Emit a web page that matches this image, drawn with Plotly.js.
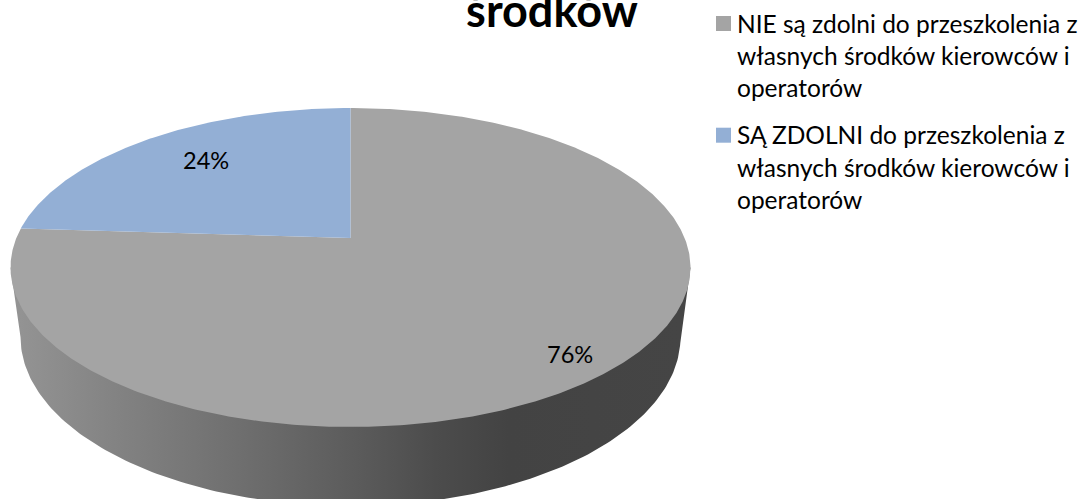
<!DOCTYPE html>
<html><head><meta charset="utf-8">
<script src="https://cdn.plot.ly/plotly-3.0.1.min.js"></script>
<style>html,body{margin:0;padding:0;background:#fff;overflow:hidden}#chart{width:1080px;height:499px}</style>
</head><body><div id="chart"></div>
<script>
// Data
const categories = ['NIE są zdolni do przeszkolenia z własnych środków kierowców i operatorów',
                    'SĄ ZDOLNI do przeszkolenia z własnych środków kierowców i operatorów'];
const shares = [76, 24];
const sliceColors = ['#a4a4a4', '#93afd5'];
const legendLines = [
  ['NIE są zdolni do przeszkolenia z', 'własnych środków kierowców i', 'operatorów'],
  ['SĄ ZDOLNI do przeszkolenia z', 'własnych środków kierowców i', 'operatorów']
];
const titleText = 'środków';

// Layout of the tilted disc (pixels of the 1080x499 canvas)
const W = 1080, H = 499;
const cx = 350.5, cy = 267.5, rx = 340, ry = 159.5;   // top face ellipse
const apexShift = 0.185;                              // perspective shift of the pie centre
const botCy = 337, botRx = 330, botRy = 169;          // bottom rim ellipse
const ux = p => (p - cx) / rx, uy = p => (cy - p) / ry;

function project(theta) {  // angle clockwise from 12 o'clock -> axis coordinates
  const X = Math.sin(theta), Y = Math.cos(theta), a = apexShift, d = 1 + a * Y;
  return [X * Math.sqrt(1 - a * a) / d, (Y + a) / d];
}
const traces = [];

// Side wall
const wx = [], wy = [];
for (let d = 90; d <= 270; d += 1) {
  const t = d * Math.PI / 180;
  wx.push(ux(cx + botRx * Math.sin(t))); wy.push(uy(botCy - botRy * Math.cos(t)));
}
wx.push(ux(cx - rx), ux(cx + rx)); wy.push(0, 0);
wx.unshift(ux(cx + rx)); wy.unshift(0);
const wallStops = [[0, '#939393'], [0.16, '#818181'], [0.33, '#6f6f6f'], [0.52, '#5a5a5a'],
                   [0.63, '#4c4c4c'], [0.74, '#434343'], [1, '#454545']];
traces.push({type:'scatter', mode:'lines', x:wx, y:wy, fill:'toself', line:{width:0},
  fillgradient:{type:'horizontal', colorscale:wallStops, start:ux(20), stop:ux(680)},
  hoverinfo:'skip', showlegend:false});

// Slices of the top face
const total = shares.reduce((a, b) => a + b, 0);
let acc = 0;
shares.forEach((v, i) => {
  const xs = [0], ys = [apexShift];
  const from = acc / total * 360, to = (acc + v) / total * 360;
  for (let d = from; d < to; d += 0.5) {
    const p = project(d * Math.PI / 180); xs.push(p[0]); ys.push(p[1]);
  }
  const e = project(to * Math.PI / 180); xs.push(e[0], 0); ys.push(e[1], apexShift);
  traces.push({type:'scatter', mode:'lines', x:xs, y:ys, fill:'toself', fillcolor:sliceColors[i],
    line:{width:0}, name:categories[i], hoverinfo:'name', showlegend:false});
  acc += v;
});

const font = 'Lato, Carlito, Calibri, sans-serif';
const px = x => x / W, py = y => 1 - y / H;
const annotations = [], shapes = [];
function txt(text, x, y, anchor, size) {
  annotations.push({text, xref:'paper', yref:'paper', x:px(x), y:py(y), xanchor:anchor, yanchor:'middle',
    showarrow:false, borderpad:0, font:{family:font, size, color:'#000'}});
}
txt(shares[1] + '%', 206, 160, 'center', 23.6);
txt(shares[0] + '%', 569.5, 354, 'center', 23.6);

const legendFs = 24.5, legendTop = [23, 134.7], lineGap = 32.3, swatch = 15, swX = 716, textX = 735.5;
legendLines.forEach((lines, i) => {
  lines.forEach((l, j) => txt(l, textX, legendTop[i] + j * lineGap, 'left', legendFs));
  shapes.push({type:'rect', xref:'paper', yref:'paper', x0:px(swX), x1:px(swX + swatch),
    y0:py(legendTop[i] + 0.5 - swatch / 2), y1:py(legendTop[i] + 0.5 + swatch / 2),
    fillcolor:sliceColors[i], line:{width:0}});
});

const layout = {
  width:W, height:H, margin:{l:0, r:0, t:0, b:0, pad:0}, paper_bgcolor:'#fff', plot_bgcolor:'#fff',
  showlegend:false,
  title:{text:titleText, x:552 / W, xanchor:'center', y:1 - 11 / H, yanchor:'middle', xref:'container', yref:'container',
         font:{family:font, size:45, weight:700, color:'#000'}},
  xaxis:{visible:false, range:[ux(0), ux(W)], fixedrange:true},
  yaxis:{visible:false, range:[uy(H), uy(0)], fixedrange:true},
  annotations, shapes
};
Plotly.newPlot('chart', traces, layout, {displayModeBar:false, staticPlot:true});
</script></body></html>
